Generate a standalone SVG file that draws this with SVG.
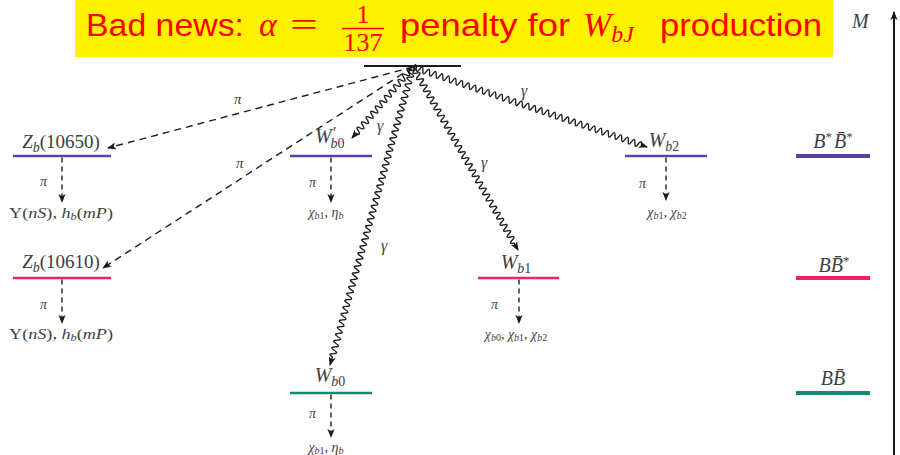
<svg xmlns="http://www.w3.org/2000/svg" width="900" height="455" viewBox="0 0 900 455">
<defs>
<style>
.lbl{font-family:"Liberation Serif","DejaVu Serif",serif;fill:#404040}
.it{font-style:italic}
.sm{font-size:14px}
.dash{fill:none;stroke:#1e1e1e;stroke-width:1.4;stroke-dasharray:7 5}
.vdash{fill:none;stroke:#1e1e1e;stroke-width:1.4;stroke-dasharray:5 4}
.wave{fill:none;stroke:#1e1e1e;stroke-width:1.4}
.purple{stroke:#5a40a0}
.pink{stroke:#e8256a}
.teal{stroke:#138a74}
.ban{font-family:"Liberation Sans","DejaVu Sans",sans-serif;font-size:32px;fill:#ff0000}
.banm{font-family:"Liberation Serif","DejaVu Serif",serif;fill:#ff0000}
</style>
<marker id="ah" viewBox="0 0 10 8" refX="9" refY="4" markerWidth="9" markerHeight="7.2" markerUnits="userSpaceOnUse" orient="auto">
<path d="M0,0 L10,4 L0,8 L2.5,4 z" fill="#1a1a1a"/>
</marker>
</defs>
<rect width="900" height="455" fill="#ffffff"/>

<g id="banner">
<rect x="75" y="0" width="758" height="57" fill="#fff200"/>
<text class="ban" x="86" y="36" textLength="158" lengthAdjust="spacingAndGlyphs">Bad news:</text>
<text class="banm it" x="259" y="36" font-size="34">α</text>
<text class="banm" x="290" y="36" font-size="34" textLength="28" lengthAdjust="spacingAndGlyphs">=</text>
<text class="banm" x="363" y="23" font-size="26" text-anchor="middle">1</text>
<line x1="342" y1="28.5" x2="384" y2="28.5" stroke="#ff0000" stroke-width="1.6"/>
<text class="banm" x="363" y="51" font-size="26" text-anchor="middle">137</text>
<text class="ban" x="400" y="36" textLength="170" lengthAdjust="spacingAndGlyphs">penalty for</text>
<text class="banm it" x="583" y="36" font-size="34">W<tspan font-size="24" dy="6">bJ</tspan></text>
<text class="ban" x="660" y="36" textLength="162" lengthAdjust="spacingAndGlyphs">production</text>
</g>

<g id="axis">
<line x1="894" y1="455" x2="894" y2="12" stroke="#1a1a1a" stroke-width="2" marker-end="url(#ah)"/>
<text class="lbl it" x="852" y="28" font-size="20">M</text>
</g>

<g id="source">
<line x1="364" y1="66" x2="461" y2="66" stroke="#1a1a1a" stroke-width="2.2"/>
</g>

<g id="connectors">
<path class="dash" d="M413,67 L108,148" marker-end="url(#ah)"/>
<path class="dash" d="M413,67 L103,268" marker-end="url(#ah)"/>
<g transform="translate(413,67) rotate(130.7)">
<path class="wave" marker-end="url(#ah)" d="M0,0 q1.75,-6 3.5,0 t3.5,0t3.5,0t3.5,0t3.5,0t3.5,0t3.5,0t3.5,0t3.5,0t3.5,0t3.5,0 t3.5,0t3.5,0t3.5,0t3.5,0t3.5,0t3.5,0t3.5,0t3.5,0t3.5,0t3.5,0 t3.5,0t3.5,0t3.5,0t3.5,0 L93.6,0"/>
</g>
<g transform="translate(413,67) rotate(105.56)">
<path class="wave" marker-end="url(#ah)" d="M0,0 q1.75,-6 3.5,0 t3.5,0t3.5,0t3.5,0t3.5,0t3.5,0t3.5,0t3.5,0t3.5,0t3.5,0t3.5,0 t3.5,0t3.5,0t3.5,0t3.5,0t3.5,0t3.5,0t3.5,0t3.5,0t3.5,0t3.5,0 t3.5,0t3.5,0t3.5,0t3.5,0t3.5,0t3.5,0t3.5,0t3.5,0t3.5,0t3.5,0 t3.5,0t3.5,0t3.5,0t3.5,0t3.5,0t3.5,0t3.5,0t3.5,0t3.5,0t3.5,0 t3.5,0t3.5,0t3.5,0t3.5,0t3.5,0t3.5,0t3.5,0t3.5,0t3.5,0t3.5,0 t3.5,0t3.5,0t3.5,0t3.5,0t3.5,0t3.5,0t3.5,0t3.5,0t3.5,0t3.5,0 t3.5,0t3.5,0t3.5,0t3.5,0t3.5,0t3.5,0t3.5,0t3.5,0t3.5,0t3.5,0 t3.5,0t3.5,0t3.5,0t3.5,0t3.5,0t3.5,0t3.5,0t3.5,0t3.5,0t3.5,0 t3.5,0t3.5,0t3.5,0t3.5,0 t3.5,0 L309.3,0"/>
</g>
<g transform="translate(413,67) rotate(60.15)">
<path class="wave" marker-end="url(#ah)" d="M0,0 q1.75,-6 3.5,0 t3.5,0t3.5,0t3.5,0t3.5,0t3.5,0t3.5,0t3.5,0t3.5,0t3.5,0t3.5,0 t3.5,0t3.5,0t3.5,0t3.5,0t3.5,0t3.5,0t3.5,0t3.5,0t3.5,0t3.5,0 t3.5,0t3.5,0t3.5,0t3.5,0t3.5,0t3.5,0t3.5,0t3.5,0t3.5,0t3.5,0 t3.5,0t3.5,0t3.5,0t3.5,0t3.5,0t3.5,0t3.5,0t3.5,0t3.5,0t3.5,0 t3.5,0t3.5,0t3.5,0t3.5,0t3.5,0t3.5,0t3.5,0t3.5,0t3.5,0t3.5,0 t3.5,0t3.5,0t3.5,0t3.5,0 t3.5,0t3.5,0t3.5,0 L211,0"/>
</g>
<g transform="translate(413,67) rotate(18.87)">
<path class="wave" marker-end="url(#ah)" d="M0,0 q1.75,-6 3.5,0 t3.5,0t3.5,0t3.5,0t3.5,0t3.5,0t3.5,0t3.5,0t3.5,0t3.5,0t3.5,0 t3.5,0t3.5,0t3.5,0t3.5,0t3.5,0t3.5,0t3.5,0t3.5,0t3.5,0t3.5,0 t3.5,0t3.5,0t3.5,0t3.5,0t3.5,0t3.5,0t3.5,0t3.5,0t3.5,0t3.5,0 t3.5,0t3.5,0t3.5,0t3.5,0t3.5,0t3.5,0t3.5,0t3.5,0t3.5,0t3.5,0 t3.5,0t3.5,0t3.5,0t3.5,0t3.5,0t3.5,0t3.5,0t3.5,0t3.5,0t3.5,0 t3.5,0t3.5,0t3.5,0t3.5,0t3.5,0t3.5,0t3.5,0t3.5,0t3.5,0t3.5,0 t3.5,0t3.5,0t3.5,0t3.5,0 t3.5,0t3.5,0t3.5,0t3.5,0 L247.3,0"/>
</g>
<text class="lbl it" x="234" y="104" font-size="15">π</text>
<text class="lbl it" x="236" y="168" font-size="15">π</text>
<text class="lbl it" x="377" y="131" font-size="16">γ</text>
<text class="lbl it" x="521" y="96" font-size="16">γ</text>
<text class="lbl it" x="481" y="168" font-size="16">γ</text>
<text class="lbl it" x="381" y="251" font-size="16">γ</text>
<path class="vdash" d="M62,157.5 L62,202" marker-end="url(#ah)"/>
<path class="vdash" d="M331,157.5 L331,202" marker-end="url(#ah)"/>
<path class="vdash" d="M666,157.5 L666,200" marker-end="url(#ah)"/>
<path class="vdash" d="M62,279.5 L62,323" marker-end="url(#ah)"/>
<path class="vdash" d="M519,279.5 L519,323" marker-end="url(#ah)"/>
<path class="vdash" d="M331,394.5 L331,437" marker-end="url(#ah)"/>
<text class="lbl it sm" x="40" y="186">π</text>
<text class="lbl it sm" x="309" y="187">π</text>
<text class="lbl it sm" x="639" y="188">π</text>
<text class="lbl it sm" x="40" y="309">π</text>
<text class="lbl it sm" x="491" y="309">π</text>
<text class="lbl it sm" x="309" y="418">π</text>
</g>

<g id="Zb10650">
<line x1="13" y1="156" x2="111" y2="156" class="purple" stroke-width="2.6"/>
<text class="lbl" x="61" y="148" font-size="19" text-anchor="middle"><tspan class="it">Z</tspan><tspan class="it" font-size="14" dy="4">b</tspan><tspan dy="-4">(10650)</tspan></text>
<text class="lbl" x="61" y="218" font-size="15" text-anchor="middle" textLength="104" lengthAdjust="spacingAndGlyphs">Υ(<tspan class="it">nS</tspan>), <tspan class="it">h</tspan><tspan class="it" font-size="10" dy="2">b</tspan><tspan dy="-2">(</tspan><tspan class="it">mP</tspan>)</text>
</g>

<g id="Wpb0">
<line x1="290" y1="156" x2="372" y2="156" class="purple" stroke-width="2.6"/>
<text class="lbl" x="315" y="143" font-size="20"><tspan class="it">W</tspan><tspan font-size="17" dx="1" dy="-5">′</tspan><tspan class="it" font-size="14" dx="-6" dy="10">b</tspan><tspan font-size="14">0</tspan></text>
<text class="lbl" x="326" y="217" font-size="14" text-anchor="middle"><tspan class="it">χ</tspan><tspan class="it" font-size="10" dy="2">b</tspan><tspan font-size="10">1</tspan><tspan dy="-2">, </tspan><tspan class="it">η</tspan><tspan class="it" font-size="10" dy="2">b</tspan></text>
</g>

<g id="Wb2">
<line x1="625" y1="156" x2="707" y2="156" class="purple" stroke-width="2.6"/>
<text class="lbl" x="664" y="147" font-size="20" text-anchor="middle"><tspan class="it">W</tspan><tspan class="it" font-size="14" dy="4">b</tspan><tspan font-size="14">2</tspan></text>
<text class="lbl" x="667" y="217" font-size="14" text-anchor="middle"><tspan class="it">χ</tspan><tspan class="it" font-size="10" dy="2">b</tspan><tspan font-size="10">1</tspan><tspan dy="-2">, </tspan><tspan class="it">χ</tspan><tspan class="it" font-size="10" dy="2">b</tspan><tspan font-size="10">2</tspan></text>
</g>

<g id="BsBs">
<line x1="796" y1="156" x2="870" y2="156" class="purple" stroke-width="4"/>
<text class="lbl" x="833" y="148" font-size="20" text-anchor="middle"><tspan class="it">B</tspan><tspan font-size="13" dy="-7">*</tspan><tspan class="it" dx="2" dy="7">B̄</tspan><tspan font-size="13" dy="-7">*</tspan></text>
</g>

<g id="Zb10610">
<line x1="13" y1="278" x2="111" y2="278" class="pink" stroke-width="2.6"/>
<text class="lbl" x="61" y="268" font-size="19" text-anchor="middle"><tspan class="it">Z</tspan><tspan class="it" font-size="14" dy="4">b</tspan><tspan dy="-4">(10610)</tspan></text>
<text class="lbl" x="61" y="339" font-size="15" text-anchor="middle" textLength="104" lengthAdjust="spacingAndGlyphs">Υ(<tspan class="it">nS</tspan>), <tspan class="it">h</tspan><tspan class="it" font-size="10" dy="2">b</tspan><tspan dy="-2">(</tspan><tspan class="it">mP</tspan>)</text>
</g>

<g id="Wb1">
<line x1="478" y1="278" x2="559" y2="278" class="pink" stroke-width="2.6"/>
<text class="lbl" x="516" y="269" font-size="20" text-anchor="middle"><tspan class="it">W</tspan><tspan class="it" font-size="14" dy="4">b</tspan><tspan font-size="14">1</tspan></text>
<text class="lbl" x="516" y="339" font-size="14" text-anchor="middle"><tspan class="it">χ</tspan><tspan class="it" font-size="10" dy="2">b</tspan><tspan font-size="10">0</tspan><tspan dy="-2">, </tspan><tspan class="it">χ</tspan><tspan class="it" font-size="10" dy="2">b</tspan><tspan font-size="10">1</tspan><tspan dy="-2">, </tspan><tspan class="it">χ</tspan><tspan class="it" font-size="10" dy="2">b</tspan><tspan font-size="10">2</tspan></text>
</g>

<g id="BBs">
<line x1="796" y1="278" x2="870" y2="278" class="pink" stroke-width="4"/>
<text class="lbl" x="834" y="272" font-size="20" text-anchor="middle"><tspan class="it">B</tspan><tspan class="it">B̄</tspan><tspan font-size="13" dy="-7">*</tspan></text>
</g>

<g id="Wb0">
<line x1="290" y1="393" x2="372" y2="393" class="teal" stroke-width="2.6"/>
<text class="lbl" x="330" y="382" font-size="20" text-anchor="middle"><tspan class="it">W</tspan><tspan class="it" font-size="14" dy="4">b</tspan><tspan font-size="14">0</tspan></text>
<text class="lbl" x="326" y="452" font-size="14" text-anchor="middle"><tspan class="it">χ</tspan><tspan class="it" font-size="10" dy="2">b</tspan><tspan font-size="10">1</tspan><tspan dy="-2">, </tspan><tspan class="it">η</tspan><tspan class="it" font-size="10" dy="2">b</tspan></text>
</g>

<g id="BB">
<line x1="796" y1="393" x2="870" y2="393" class="teal" stroke-width="4"/>
<text class="lbl" x="833" y="385" font-size="20" text-anchor="middle"><tspan class="it">B</tspan><tspan class="it">B̄</tspan></text>
</g>
</svg>
